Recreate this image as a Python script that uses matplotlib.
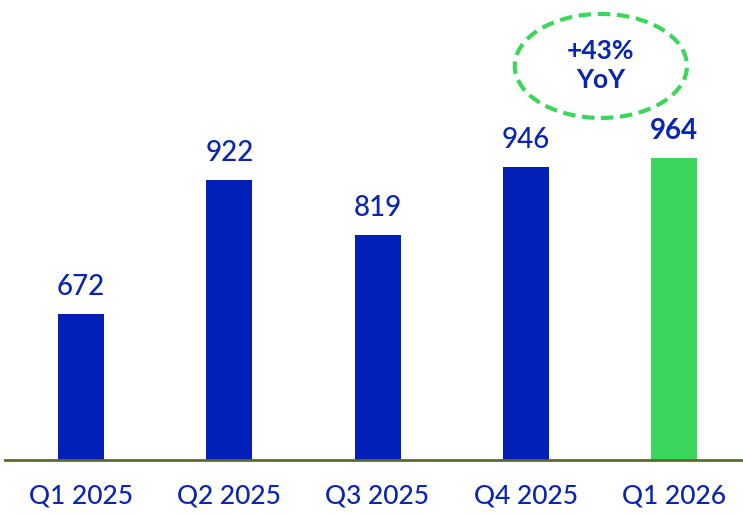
import matplotlib
matplotlib.use('Agg')
import matplotlib.pyplot as plt
from matplotlib.patches import Ellipse

quarters = ['Q1 2025', 'Q2 2025', 'Q3 2025', 'Q4 2025', 'Q1 2026']
values = [672, 922, 819, 946, 964]
yoy_label = '+43%\nYoY'

BLUE = '#0220b8'
GREEN = '#3dd65c'
TEXT = '#0a26b0'

plt.rcParams['font.family'] = ['Lato', 'DejaVu Sans']

fig = plt.figure(figsize=(7.43, 5.14), dpi=100)
ax = fig.add_axes([5 / 743, 54 / 514, 738 / 743, 460 / 514])

colors = [BLUE] * (len(values) - 1) + [GREEN]
xs = range(len(values))
ax.bar(xs, values, width=0.31, color=colors, bottom=0, zorder=2)

for i, v in enumerate(values):
    last = i == len(values) - 1
    ax.annotate(str(v), (i, v), xytext=(0, 10), textcoords='offset points',
                ha='center', va='bottom', fontsize=20, color=TEXT,
                fontweight='bold' if last else 'medium')

# dashed ring around the growth callout
ax.add_patch(Ellipse((3.507, 1135), 1.162, 194, fill=False, edgecolor=GREEN,
                     linewidth=3, linestyle=(0, (3, 1.6)), zorder=3))
ax.text(3.507, 1135, yoy_label, ha='center', va='center', fontsize=19,
        fontweight='bold', color=TEXT, linespacing=1.25)

ax.set_xlim(-0.514, 4.466)
ax.set_ylim(400, 1258)
ax.set_xticks(list(xs))
ax.set_xticklabels(quarters, fontsize=19, color=TEXT, fontweight='medium')
ax.tick_params(axis='x', length=0, pad=17)
ax.set_yticks([])
for side in ['top', 'right', 'left']:
    ax.spines[side].set_visible(False)
ax.spines['bottom'].set_color('#5c6b32')
ax.spines['bottom'].set_linewidth(2)

fig.savefig('out.png', dpi=100)
